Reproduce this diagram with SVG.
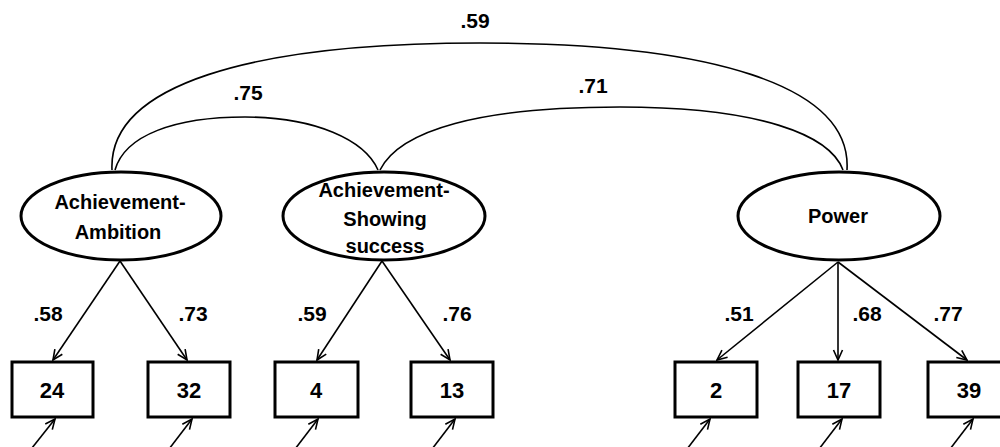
<svg xmlns="http://www.w3.org/2000/svg" width="1000" height="447" viewBox="0 0 1000 447">
<style>
.lat{fill:#fff;stroke:#000;stroke-width:3}
.obs{fill:#fff;stroke:#000;stroke-width:3}
.t{font-family:"Liberation Sans",Arial,sans-serif;font-weight:bold;fill:#000;text-anchor:middle}
.tl{font-size:20px}
.tb{font-size:22px}
.tn{font-size:21px}
.c{fill:none;stroke:#000;stroke-width:1.6}
.a{fill:none;stroke:#000;stroke-width:1.6;marker-end:url(#ah)}
</style>
<defs>
<marker id="ah" viewBox="0 0 12 12" refX="11" refY="6" markerWidth="12" markerHeight="12" markerUnits="userSpaceOnUse" orient="auto">
<path d="M1,1.5 L11,6 L1,10.5" fill="none" stroke="#000" stroke-width="1.6"/>
</marker>
</defs>
<rect width="1000" height="447" fill="#fff"/>
<g id="connectors">
<path class="c" d="M112,170 C108,85 250,43 480,43 C710,43 852,85 847,170"/>
<path class="c" d="M115,170 C125,135 175,117 245,117 C315,117 365,140 378,170"/>
<path class="c" d="M380,170 C400,130 480,107 620,107 C760,107 830,135 843,170"/>
<line class="a" x1="120" y1="261" x2="53" y2="360"/>
<line class="a" x1="120" y1="261" x2="187" y2="360"/>
<line class="a" x1="382" y1="261" x2="317" y2="360"/>
<line class="a" x1="382" y1="261" x2="450" y2="360"/>
<line class="a" x1="838" y1="262" x2="717" y2="360"/>
<line class="a" x1="838" y1="262" x2="838" y2="360"/>
<line class="a" x1="838" y1="262" x2="967" y2="360"/>
<line class="a" x1="28" y1="453" x2="55" y2="419"/>
<line class="a" x1="166" y1="453" x2="192" y2="419"/>
<line class="a" x1="292" y1="453" x2="318" y2="419"/>
<line class="a" x1="429" y1="453" x2="455" y2="419"/>
<line class="a" x1="684" y1="453" x2="710" y2="419"/>
<line class="a" x1="816" y1="453" x2="842" y2="419"/>
<line class="a" x1="947" y1="453" x2="973" y2="419"/>
<text class="t tn" x="475" y="28">.59</text>
<text class="t tn" x="248" y="100">.75</text>
<text class="t tn" x="593" y="93">.71</text>
<text class="t tn" x="48" y="321">.58</text>
<text class="t tn" x="193" y="321">.73</text>
<text class="t tn" x="312" y="321">.59</text>
<text class="t tn" x="457" y="321">.76</text>
<text class="t tn" x="739" y="321">.51</text>
<text class="t tn" x="867" y="321">.68</text>
<text class="t tn" x="948" y="321">.77</text>
</g>
<g id="achievement-ambition">
<ellipse class="lat" cx="121" cy="216" rx="100" ry="44"/>
<text class="t tl" x="120" y="209">Achievement-</text>
<text class="t tl" x="118" y="239">Ambition</text>
</g>
<g id="achievement-showing">
<ellipse class="lat" cx="384" cy="216" rx="101" ry="44"/>
<text class="t tl" x="384" y="197">Achievement-</text>
<text class="t tl" x="385" y="226">Showing</text>
<text class="t tl" x="385" y="253">success</text>
</g>
<g id="power">
<ellipse class="lat" cx="839" cy="216" rx="101" ry="44"/>
<text class="t tl" x="838" y="223">Power</text>
</g>
<g id="box-24"><rect class="obs" x="12" y="362" width="81" height="55"/><text class="t tb" x="52" y="398">24</text></g>
<g id="box-32"><rect class="obs" x="148" y="362" width="82" height="55"/><text class="t tb" x="189" y="398">32</text></g>
<g id="box-4"><rect class="obs" x="275" y="362" width="83" height="55"/><text class="t tb" x="316" y="398">4</text></g>
<g id="box-13"><rect class="obs" x="411" y="362" width="82" height="55"/><text class="t tb" x="452" y="398">13</text></g>
<g id="box-2"><rect class="obs" x="675" y="362" width="82" height="55"/><text class="t tb" x="716" y="398">2</text></g>
<g id="box-17"><rect class="obs" x="798" y="362" width="82" height="55"/><text class="t tb" x="839" y="398">17</text></g>
<g id="box-39"><rect class="obs" x="928" y="362" width="82" height="55"/><text class="t tb" x="969" y="398">39</text></g>
</svg>
